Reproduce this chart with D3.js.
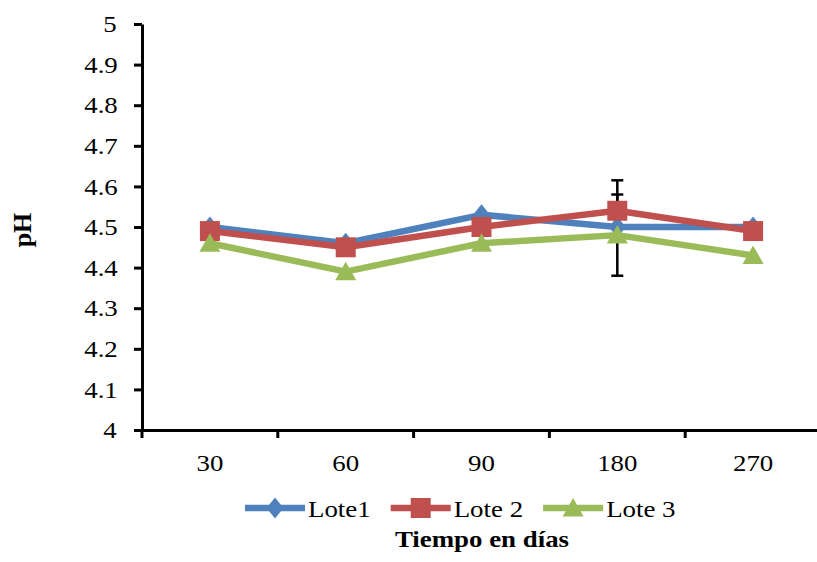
<!DOCTYPE html>
<html>
<head>
<meta charset="utf-8">
<script src="https://cdn.jsdelivr.net/npm/d3@7"></script>
<style>
body { margin: 0; background: #fff; }
svg text { font-family: "Liberation Serif", "Times New Roman", serif; fill: #000; }
.wide { transform-box: fill-box; transform-origin: center; transform: scaleX(1.12); }
</style>
</head>
<body>
<div id="container"></div>
<script>
// chart values
let days = ["30", "60", "90", "180", "270"];
let lote1 = [4.50, 4.46, 4.53, 4.50, 4.50];
let lote2 = [4.49, 4.45, 4.50, 4.54, 4.49];
let lote3 = [4.46, 4.39, 4.46, 4.48, 4.43];
let errLote2 = [0, 0, 0, 0.075, 0];
let errLote3 = [0, 0, 0, 0.10, 0];
let yTicks = [4, 4.1, 4.2, 4.3, 4.4, 4.5, 4.6, 4.7, 4.8, 4.9, 5];
let yTickLabels = ["4", "4.1", "4.2", "4.3", "4.4", "4.5", "4.6", "4.7", "4.8", "4.9", "5"];
let seriesNames = ["Lote1", "Lote 2", "Lote 3"];
let seriesColors = ["#4f81bd", "#c0504d", "#9bbb59"];
let seriesShapes = ["diamond", "square", "triangle"];
let yTitle = "pH";
let xTitle = "Tiempo en días";

// layout
let width = 817;
let height = 562;
let plotLeft = 142, plotRight = 821, plotTop = 24, plotBottom = 430;

function markerPath(shape) {
    if (shape == "diamond") return "M0,-10.5L8.5,0L0,10.5L-8.5,0Z";
    if (shape == "square") return "M-10,-10H10V10H-10Z";
    return "M0,-10L10.5,8.5H-10.5Z";
}

function DOMContentLoadedListener_chart() {
    let svg = d3.select('#container').append('svg')
        .attr('width', width)
        .attr('height', height);

    let x = d3.scaleBand().domain(days).range([plotLeft, plotRight]);
    let y = d3.scaleLinear().domain([4, 5]).range([plotBottom, plotTop]);
    let cx = function(d, i) { return x(days[i]) + x.bandwidth() / 2; };

    // y axis
    let yAxis = svg.append('g')
        .attr('transform', 'translate(' + plotLeft + ',0)')
        .call(d3.axisLeft(y).tickValues(yTicks)
            .tickFormat(function(d, i) { return yTickLabels[i]; })
            .tickSize(8).tickSizeOuter(0).tickPadding(18));
    yAxis.selectAll('path, line').attr('stroke', '#000').attr('stroke-width', 3);
    yAxis.selectAll('text').attr('font-size', 24).attr('class', 'wide');

    // x axis
    let xAxis = svg.append('g')
        .attr('transform', 'translate(0,' + plotBottom + ')')
        .call(d3.axisBottom(x).tickSize(0).tickSizeOuter(0).tickPadding(24));
    xAxis.select('.domain').attr('stroke', '#000').attr('stroke-width', 3);
    xAxis.selectAll('text').attr('font-size', 24).attr('class', 'wide');
    xAxis.selectAll('.boundary')
        .data(d3.range(days.length + 1))
        .enter().append('line')
        .attr('class', 'boundary')
        .attr('x1', function(i) { return plotLeft + i * x.step(); })
        .attr('x2', function(i) { return plotLeft + i * x.step(); })
        .attr('y1', 0).attr('y2', 8)
        .attr('stroke', '#000').attr('stroke-width', 3);

    // error bars (under the markers)
    let errSets = [[lote2, errLote2], [lote3, errLote3]];
    errSets.forEach(function(s) {
        let vals = s[0], errs = s[1];
        let g = svg.append('g').attr('stroke', '#000').attr('stroke-width', 2.5);
        vals.forEach(function(v, i) {
            if (!errs[i]) return;
            let px = cx(v, i);
            g.append('line').attr('x1', px).attr('x2', px)
                .attr('y1', y(v - errs[i])).attr('y2', y(v + errs[i]));
            [v - errs[i], v + errs[i]].forEach(function(e) {
                g.append('line').attr('x1', px - 6).attr('x2', px + 6)
                    .attr('y1', y(e)).attr('y2', y(e));
            });
        });
    });

    // series
    let allSeries = [lote1, lote2, lote3];
    let line = d3.line().x(cx).y(function(d) { return y(d); });
    allSeries.forEach(function(vals, k) {
        svg.append('path')
            .datum(vals)
            .attr('d', line)
            .attr('fill', 'none')
            .attr('stroke', seriesColors[k])
            .attr('stroke-width', 6.5)
            .attr('stroke-linejoin', 'round');
        svg.selectAll('.m' + k)
            .data(vals)
            .enter().append('path')
            .attr('class', 'm' + k)
            .attr('d', markerPath(seriesShapes[k]))
            .attr('transform', function(d, i) { return 'translate(' + cx(d, i) + ',' + y(d) + ')'; })
            .attr('fill', seriesColors[k]);
    });

    // legend
    let legendY = 508;
    let lx = 245;
    seriesNames.forEach(function(name, k) {
        let g = svg.append('g');
        g.append('line')
            .attr('x1', lx).attr('x2', lx + 60)
            .attr('y1', legendY).attr('y2', legendY)
            .attr('stroke', seriesColors[k]).attr('stroke-width', 6.5);
        g.append('path')
            .attr('d', markerPath(seriesShapes[k]))
            .attr('transform', 'translate(' + (lx + 30) + ',' + legendY + ')')
            .attr('fill', seriesColors[k]);
        let t = g.append('text')
            .attr('x', lx + 63).attr('y', legendY).attr('dy', '0.36em')
            .attr('font-size', 24)
            .text(name);
        let w = t.node().getComputedTextLength() * 1.12;
        t.attr('x', lx + 63 + (w - w / 1.12) / 2).attr('class', 'wide');
        lx = lx + 63 + w + 20;
    });

    // axis titles
    svg.append('text')
        .attr('transform', 'translate(31,230) rotate(-90)')
        .attr('text-anchor', 'middle')
        .attr('font-size', 26)
        .attr('font-weight', 'bold')
        .text(yTitle);
    svg.append('text')
        .attr('x', 482).attr('y', 547)
        .attr('text-anchor', 'middle')
        .attr('font-size', 24)
        .attr('font-weight', 'bold')
        .attr('class', 'wide')
        .text(xTitle);
}

document.addEventListener("DOMContentLoaded", DOMContentLoadedListener_chart);
</script>
</body>
</html>
